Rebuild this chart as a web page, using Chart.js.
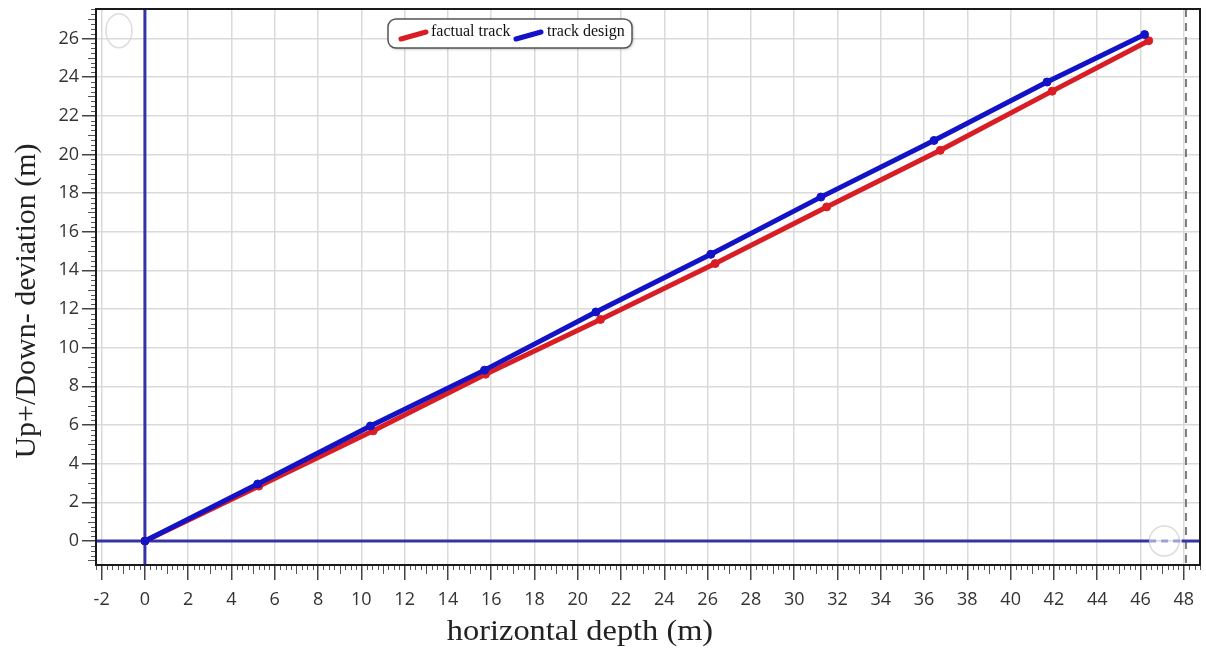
<!DOCTYPE html>
<html lang="en">
<head>
    <meta charset="UTF-8">
    <title>Horizontal depth vs deviation</title>
    <script src="https://cdn.jsdelivr.net/npm/chart.js"></script>
    <style>
        html, body {
            margin: 0;
            padding: 0;
            background: #ffffff;
            overflow: hidden;
        }
        .chart-box {
            position: relative;
            width: 1206px;
            height: 654px;
        }
    </style>
</head>
<body>
    <div class="chart-box">
        <canvas id="trackChart" width="1206" height="654"></canvas>
    </div>

    <script>
        // survey stations: horizontal depth (m) and up/down deviation (m)
        const designDepth = [0, 5.21, 10.42, 15.69, 20.84, 26.15, 31.23, 36.46, 41.68, 46.19];
        const designDev = [0, 2.95, 5.95, 8.84, 11.85, 14.83, 17.79, 20.72, 23.74, 26.2];
        const factualDepth = [0, 5.26, 10.55, 15.74, 21.05, 26.35, 31.5, 36.75, 41.92, 46.38];
        const factualDev = [0, 2.84, 5.7, 8.63, 11.46, 14.35, 17.28, 20.21, 23.27, 25.88];

        const xTicks = [-2, 0, 2, 4, 6, 8, 10, 12, 14, 16, 18, 20, 22, 24, 26, 28, 30, 32, 34, 36, 38, 40, 42, 44, 46, 48];
        const yTicks = [0, 2, 4, 6, 8, 10, 12, 14, 16, 18, 20, 22, 24, 26];

        const xRange = [-2.26, 48.75];
        const yRange = [-1.24, 27.52];

        const toPoints = (xs, ys) => xs.map((x, i) => ({ x: x, y: ys[i] }));

        const tickFont = { family: "'Open Sans', sans-serif", size: 18 };
        const serif = "'Liberation Serif', 'DejaVu Serif', serif";

        // ruler style minor ticks, blue zero axes, frame and the extra marker line
        const decorPlugin = {
            id: 'decor',
            beforeDatasetsDraw(chart) {
                const { ctx, chartArea: a, scales: { x, y } } = chart;
                ctx.save();

                // minor ticks on the bottom and left edges
                ctx.strokeStyle = '#555';
                ctx.lineWidth = 1;
                for (let v = -2.25; v <= xRange[1]; v += 0.25) {
                    if (Math.abs(v % 2) < 0.001) continue;
                    const px = Math.round(x.getPixelForValue(v)) + 0.5;
                    const len = Math.abs(v % 1) < 0.001 ? 9 : 5;
                    ctx.beginPath();
                    ctx.moveTo(px, a.bottom);
                    ctx.lineTo(px, a.bottom + len);
                    ctx.stroke();
                }
                for (let v = -1.0; v <= yRange[1]; v += 0.25) {
                    if (Math.abs(v % 2) < 0.001) continue;
                    const py = Math.round(y.getPixelForValue(v)) + 0.5;
                    const len = Math.abs(v % 1) < 0.001 ? 8 : 5;
                    ctx.beginPath();
                    ctx.moveTo(a.left, py);
                    ctx.lineTo(a.left - len, py);
                    ctx.stroke();
                }

                // faint circles
                ctx.strokeStyle = '#dcdcdc';
                ctx.lineWidth = 1.5;
                ctx.beginPath();
                ctx.ellipse(x.getPixelForValue(-1.2), y.getPixelForValue(26.4), 13, 17, 0, 0, Math.PI * 2);
                ctx.stroke();
                ctx.beginPath();
                ctx.arc(x.getPixelForValue(47.1), y.getPixelForValue(0), 15, 0, Math.PI * 2);
                ctx.stroke();

                // dashed marker line near the right edge
                const mx = x.getPixelForValue(48.1);
                ctx.strokeStyle = '#7a7a7a';
                ctx.lineWidth = 2;
                ctx.setLineDash([8, 6]);
                ctx.beginPath();
                ctx.moveTo(mx, a.top);
                ctx.lineTo(mx, a.bottom);
                ctx.stroke();
                ctx.setLineDash([]);

                // zero axes
                const x0 = x.getPixelForValue(0);
                const y0 = y.getPixelForValue(0);
                ctx.strokeStyle = '#3434a8';
                ctx.lineWidth = 3;
                ctx.beginPath();
                ctx.moveTo(x0, a.top);
                ctx.lineTo(x0, a.bottom);
                ctx.moveTo(a.left, y0);
                ctx.lineTo(x.getPixelForValue(46.4), y0);
                ctx.stroke();
                ctx.strokeStyle = '#9aa0d8';
                ctx.setLineDash([7, 5]);
                ctx.beginPath();
                ctx.moveTo(x.getPixelForValue(46.4), y0);
                ctx.lineTo(x.getPixelForValue(47.9), y0);
                ctx.stroke();
                ctx.setLineDash([]);
                ctx.strokeStyle = '#3434a8';
                ctx.beginPath();
                ctx.moveTo(x.getPixelForValue(47.9), y0);
                ctx.lineTo(a.right, y0);
                ctx.stroke();

                // frame
                ctx.strokeStyle = '#1a1a1a';
                ctx.lineWidth = 2;
                ctx.strokeRect(a.left, a.top, a.right - a.left, a.bottom - a.top);
                ctx.restore();
            },
            afterDraw(chart) {
                const { ctx } = chart;
                ctx.save();

                // axis titles
                ctx.fillStyle = '#222';
                ctx.font = '30px ' + serif;
                ctx.textAlign = 'center';
                ctx.textBaseline = 'middle';
                ctx.translate(580, 632);
                ctx.scale(1.08, 1);
                ctx.fillText('horizontal depth (m)', 0, 0);
                ctx.setTransform(1, 0, 0, 1, 0, 0);
                ctx.translate(27, 301);
                ctx.rotate(-Math.PI / 2);
                ctx.fillText('Up+/Down- deviation (m)', 0, 0);
                ctx.setTransform(1, 0, 0, 1, 0, 0);

                // legend box
                const bx = 388, by = 19, bw = 244, bh = 29, r = 8;
                ctx.shadowColor = 'rgba(0,0,0,0.35)';
                ctx.shadowBlur = 3;
                ctx.shadowOffsetX = 1;
                ctx.shadowOffsetY = 1;
                ctx.fillStyle = '#fff';
                ctx.beginPath();
                ctx.roundRect(bx, by, bw, bh, r);
                ctx.fill();
                ctx.shadowColor = 'transparent';
                ctx.strokeStyle = '#555';
                ctx.lineWidth = 1.5;
                ctx.stroke();

                const items = [
                    { ds: chart.data.datasets[1], sx: 401, tx: 431 },
                    { ds: chart.data.datasets[0], sx: 516, tx: 547 }
                ];
                ctx.font = '16px ' + serif;
                ctx.textAlign = 'left';
                items.forEach(it => {
                    ctx.strokeStyle = it.ds.borderColor;
                    ctx.lineWidth = 5;
                    ctx.lineCap = 'round';
                    ctx.beginPath();
                    ctx.moveTo(it.sx, 39);
                    ctx.lineTo(it.sx + 25, 32);
                    ctx.stroke();
                    ctx.fillStyle = '#111';
                    ctx.fillText(it.ds.label, it.tx, 32);
                });
                ctx.restore();
            }
        };

        const ctx = document.getElementById('trackChart').getContext('2d');

        new Chart(ctx, {
            type: 'scatter',
            data: {
                datasets: [
                    {
                        // drawn on top
                        label: 'track design',
                        data: toPoints(designDepth, designDev),
                        borderColor: '#1212c6',
                        backgroundColor: '#1212c6',
                        borderWidth: 5,
                        pointRadius: 4,
                        pointBorderWidth: 1,
                        showLine: true
                    },
                    {
                        label: 'factual track',
                        data: toPoints(factualDepth, factualDev),
                        borderColor: '#d81e24',
                        backgroundColor: '#d81e24',
                        borderWidth: 5,
                        pointRadius: 4,
                        pointBorderWidth: 1,
                        showLine: true
                    }
                ]
            },
            options: {
                responsive: false,
                animation: false,
                layout: { autoPadding: false, padding: { top: 9, right: 6, left: 0, bottom: 0 } },
                plugins: {
                    legend: { display: false },
                    tooltip: { enabled: false }
                },
                scales: {
                    x: {
                        type: 'linear',
                        min: xRange[0],
                        max: xRange[1],
                        afterBuildTicks: scale => { scale.ticks = xTicks.map(v => ({ value: v })); },
                        afterFit: scale => {
                            scale.height = 89;
                            scale.paddingLeft = 0;
                            scale.paddingRight = 0;
                        },
                        grid: {
                            color: '#dadada',
                            lineWidth: 1.5,
                            drawTicks: true,
                            tickLength: 15,
                            tickColor: '#444',
                            tickWidth: 1.5
                        },
                        border: { display: false },
                        ticks: {
                            font: tickFont,
                            color: '#333',
                            padding: 9,
                            maxRotation: 0,
                            autoSkip: false
                        }
                    },
                    y: {
                        type: 'linear',
                        min: yRange[0],
                        max: yRange[1],
                        afterBuildTicks: scale => { scale.ticks = yTicks.map(v => ({ value: v })); },
                        afterFit: scale => {
                            scale.width = 96;
                            scale.paddingTop = 0;
                            scale.paddingBottom = 0;
                        },
                        grid: {
                            color: '#dadada',
                            lineWidth: 1.5,
                            drawTicks: true,
                            tickLength: 14,
                            tickColor: '#444',
                            tickWidth: 1.5
                        },
                        border: { display: false },
                        ticks: {
                            font: tickFont,
                            color: '#333',
                            padding: 3,
                            autoSkip: false
                        }
                    }
                }
            },
            plugins: [decorPlugin]
        });
    </script>
</body>
</html>
